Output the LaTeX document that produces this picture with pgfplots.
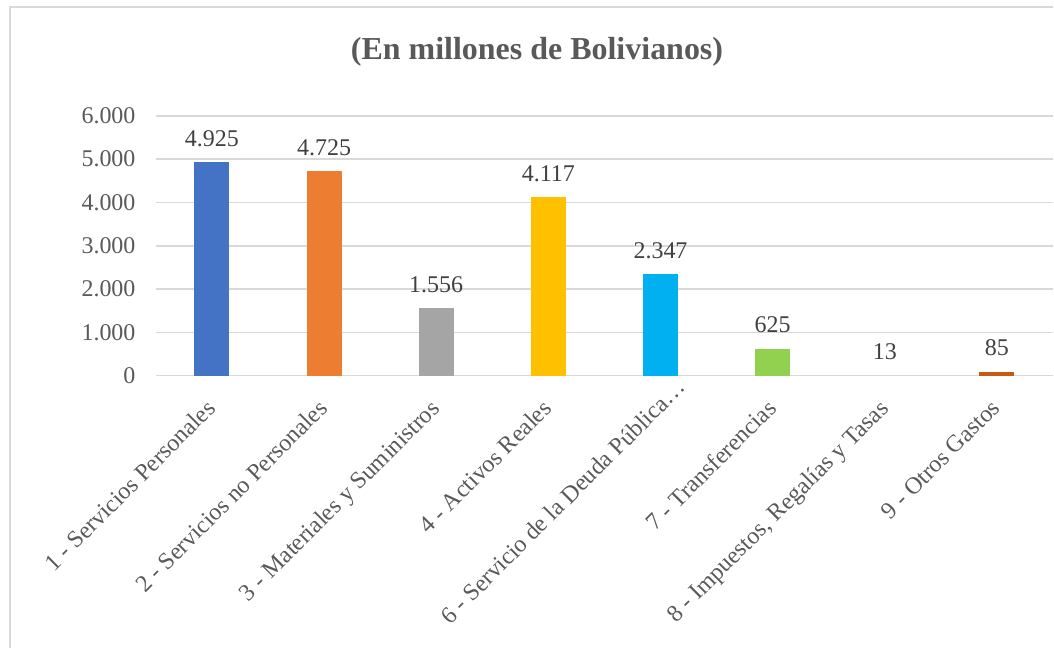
\documentclass[border=0pt]{standalone}
\usepackage{fontspec}
\setmainfont{Liberation Serif}
\usepackage{pgfplots}
\pgfplotsset{compat=1.18}
\definecolor{cA}{HTML}{4472C4}
\definecolor{cB}{HTML}{ED7D31}
\definecolor{cC}{HTML}{A5A5A5}
\definecolor{cD}{HTML}{FFC000}
\definecolor{cE}{HTML}{00B0F0}
\definecolor{cF}{HTML}{92D050}
\definecolor{cG}{HTML}{D9D9D9}
\definecolor{cH}{HTML}{C55A11}
\definecolor{frame}{HTML}{D9D9D9}
\definecolor{gridc}{HTML}{D9D9D9}
\definecolor{txt}{HTML}{595959}
\definecolor{lab}{HTML}{404040}
\begin{document}
\begin{tikzpicture}
\path (0pt,0pt) rectangle (527pt,324.5pt);
\draw[color=frame, line width=1pt] (5pt,0pt) -- (5pt,320.75pt) -- (527pt,320.75pt);
\node[anchor=base, font=\bfseries\fontsize{16}{19}\selectfont, text=txt] at (268.75pt,294.5pt) {(En millones de Bolivianos)};
\begin{axis}[
  at={(78pt,136.5pt)}, anchor=south west,
  scale only axis, width=449pt, height=130pt,
  xmin=-0.5, xmax=7.5, ymin=0, ymax=6000,
  ybar, bar width=17.5pt, bar shift=0pt,
  axis line style={draw=none},
  major tick length=0pt, tick style={draw=none},
  ymajorgrids, grid style={color=gridc, line width=0.75pt},
  ytick={0,1000,2000,3000,4000,5000,6000},
  scaled y ticks=false,
  xtick={0,1,2,3,4,5,6,7},
  xticklabels={1 - Servicios Personales, 2 - Servicios no Personales, 3 - Materiales y Suministros, 4 - Activos Reales, {6 - Servicio de la Deuda Pública…\kern-15pt\null}, 7 - Transferencias, {8 - Impuestos, Regalías y Tasas}, 9 - Otros Gastos},
  yticklabel style={font=\fontsize{12}{14}\selectfont, text=txt, inner sep=0pt, xshift=-10pt},
  xticklabel style={font=\fontsize{12}{14}\selectfont, text=txt, inner sep=0pt, xshift=-3.5pt, rotate=45, anchor=north east},
  xticklabel shift=11pt,
  nodes near coords,
  every node near coord/.append style={font=\fontsize{12}{14}\selectfont, text=lab, anchor=base, inner sep=0pt, yshift=8pt},
  /pgf/number format/1000 sep={.},
  /pgf/number format/assume math mode=true,
]
\addplot[fill=cA, draw=none] coordinates {(0,4925)};
\addplot[fill=cB, draw=none] coordinates {(1,4725)};
\addplot[fill=cC, draw=none] coordinates {(2,1556)};
\addplot[fill=cD, draw=none] coordinates {(3,4117)};
\addplot[fill=cE, draw=none] coordinates {(4,2347)};
\addplot[fill=cF, draw=none] coordinates {(5,625)};
\addplot[fill=cG, draw=none] coordinates {(6,13)};
\addplot[fill=cH, draw=none] coordinates {(7,85)};
\end{axis}
\end{tikzpicture}
\end{document}
